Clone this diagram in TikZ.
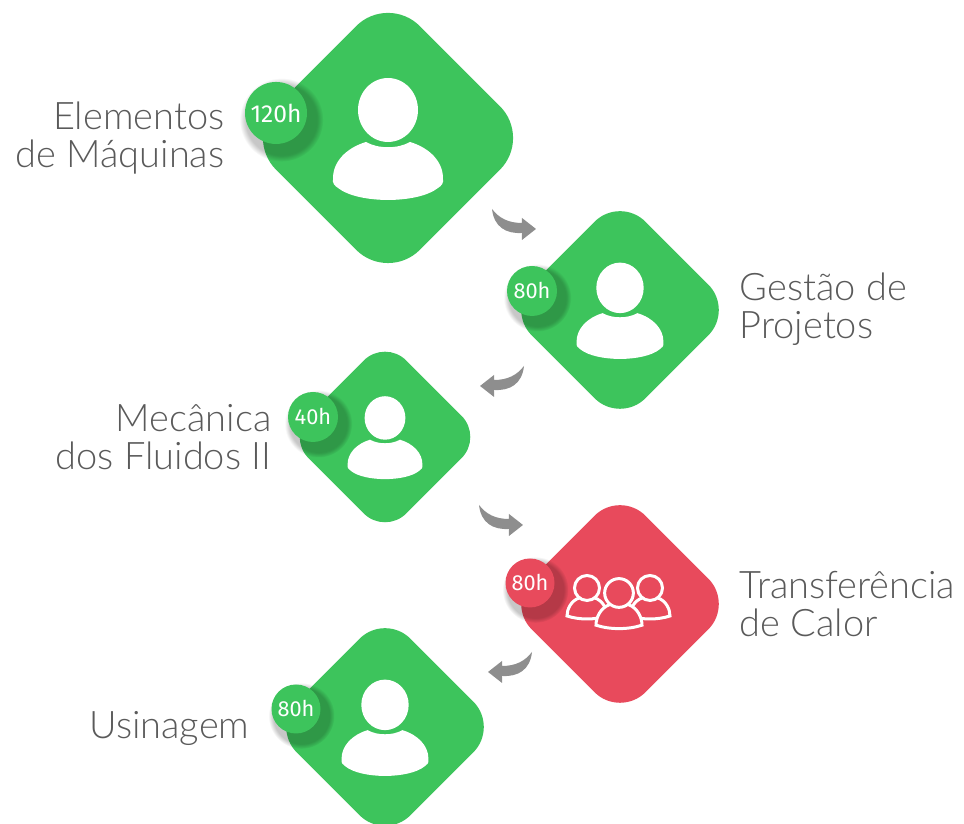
\documentclass[tikz,border=0pt]{standalone}
\usepackage{fontspec}
\newfontfamily\labelfont{Lato Light}
\newfontfamily\badgefont{Fira Sans}
\usetikzlibrary{shapes.geometric,shadows,fadings}
\definecolor{cardgreen}{HTML}{3DC45C}
\definecolor{cardred}{HTML}{E84A5C}
\definecolor{arrowgray}{HTML}{8E8E8E}
\definecolor{labelgray}{HTML}{5A5A5A}
\tikzset{
	card/.style={diamond, fill=#1, inner sep=0pt, aspect=1},
	badge/.style={circle, fill=#1, inner sep=0pt, text=white, font=\badgefont\fontsize{6.2}{6.2}\selectfont,
		general shadow={shadow xshift=0.04cm, shadow yshift=-0.05cm, shadow scale=1.35, fill=black, opacity=0.22,
			path fading=circle with fuzzy edge 15 percent}},
	course/.style={text=labelgray, font=\labelfont\fontsize{10.8}{10.9}\selectfont, inner sep=0pt},
	person/.pic={
		\begin{scope}[x=0.01cm, y=-0.01cm]
			\fill[white] (0,-28) ellipse (30 and 32);
			\fill[white] (-22,4) .. controls (-10,11) and (10,11) .. (22,4) .. controls (42,10) and (55,24) .. (55,40)
				.. controls (56,46) and (53,48) .. (50,50) .. controls (30,66) and (-30,66) .. (-50,50)
				.. controls (-53,48) and (-56,46) .. (-55,40) .. controls (-55,24) and (-42,10) .. (-22,4) -- cycle;
		\end{scope}
	},
	member/.pic={
		\begin{scope}[x=0.01cm, y=-0.01cm, line width=0.03cm]
			\filldraw[draw=white, fill=cardred] (-8,10) .. controls (-16,13) and (-20,21) .. (-20,28)
				.. controls (-8,32) and (8,32) .. (20,28) .. controls (20,21) and (16,13) .. (8,10) -- cycle;
			\filldraw[draw=white, fill=cardred] (0,0) circle (12.5);
		\end{scope}
	},
	bentarrow/.pic={
		\fill[arrowgray, x=0.01cm, y=-0.01cm] (0,0) .. controls (7,9) and (16,14) .. (30,14) -- (30,9) -- (44,20) -- (30,31)
			-- (30,24) .. controls (14,25) and (2,18) .. (0,0) -- cycle;
	}
}
\begin{document}
\begin{tikzpicture}
	\useasboundingbox (0,0) rectangle (9.64,8.24);
	\node[card=cardgreen, minimum size=2.88cm, rounded corners=0.45cm] (maquinas)at(3.88, 6.86) {};
	\node[card=cardgreen, minimum size=2.28cm, rounded corners=0.36cm] (gestao)at(6.20, 5.14) {};
	\node[card=cardgreen, minimum size=1.96cm, rounded corners=0.30cm] (fluidos)at(3.85, 3.87) {};
	\node[card=cardred, minimum size=2.28cm, rounded corners=0.36cm] (calor)at(6.20, 2.20) {};
	\node[card=cardgreen, minimum size=2.28cm, rounded corners=0.36cm] (usinagem)at(3.85, 0.97) {};

	\pic at (maquinas) {person};
	\pic[scale=0.79] at (gestao) {person};
	\pic[scale=0.68] at (fluidos) {person};
	\pic[scale=0.79] at (usinagem) {person};
	\coordinate (memberL)at(5.87, 2.36);
	\coordinate (memberR)at(6.50, 2.36);
	\coordinate (memberC)at(6.19, 2.31);
	\pic at (memberL) {member};
	\pic at (memberR) {member};
	\pic[scale=1.15] at (memberC) {member};

	\node[badge=cardgreen, minimum size=0.62cm, font=\badgefont\fontsize{7}{7}\selectfont] (hm)at(2.76, 7.11) {120h};
	\node[badge=cardgreen, minimum size=0.50cm] (hg)at(5.32, 5.33) {80h};
	\node[badge=cardgreen, minimum size=0.50cm] (hf)at(3.13, 4.07) {40h};
	\node[badge=cardred, minimum size=0.49cm] (hc)at(5.30, 2.41) {80h};
	\node[badge=cardgreen, minimum size=0.49cm] (hu)at(2.96, 1.15) {80h};

	\node[course, align=right, anchor=east] (lm)at(2.25, 6.86) {Elementos\\de Máquinas};
	\node[course, align=left, anchor=west] (lg)at(7.39, 5.15) {Gestão de\\Projetos};
	\node[course, align=right, anchor=east] (lf)at(2.72, 3.87) {Mecânica\\dos Fluidos II};
	\node[course, align=left, anchor=west] (lc)at(7.39, 2.20) {Transferência\\de Calor};
	\node[course, align=right, anchor=east] (lu)at(2.50, 0.96) {Usinagem};

	\coordinate (a1)at(4.92, 6.15);
	\coordinate (a2)at(5.24, 4.58);
	\coordinate (a3)at(4.79, 3.19);
	\coordinate (a4)at(5.32, 1.72);
	\pic at (a1) {bentarrow};
	\pic[xscale=-1] at (a2) {bentarrow};
	\pic at (a3) {bentarrow};
	\pic[xscale=-1] at (a4) {bentarrow};
\end{tikzpicture}
\end{document}
